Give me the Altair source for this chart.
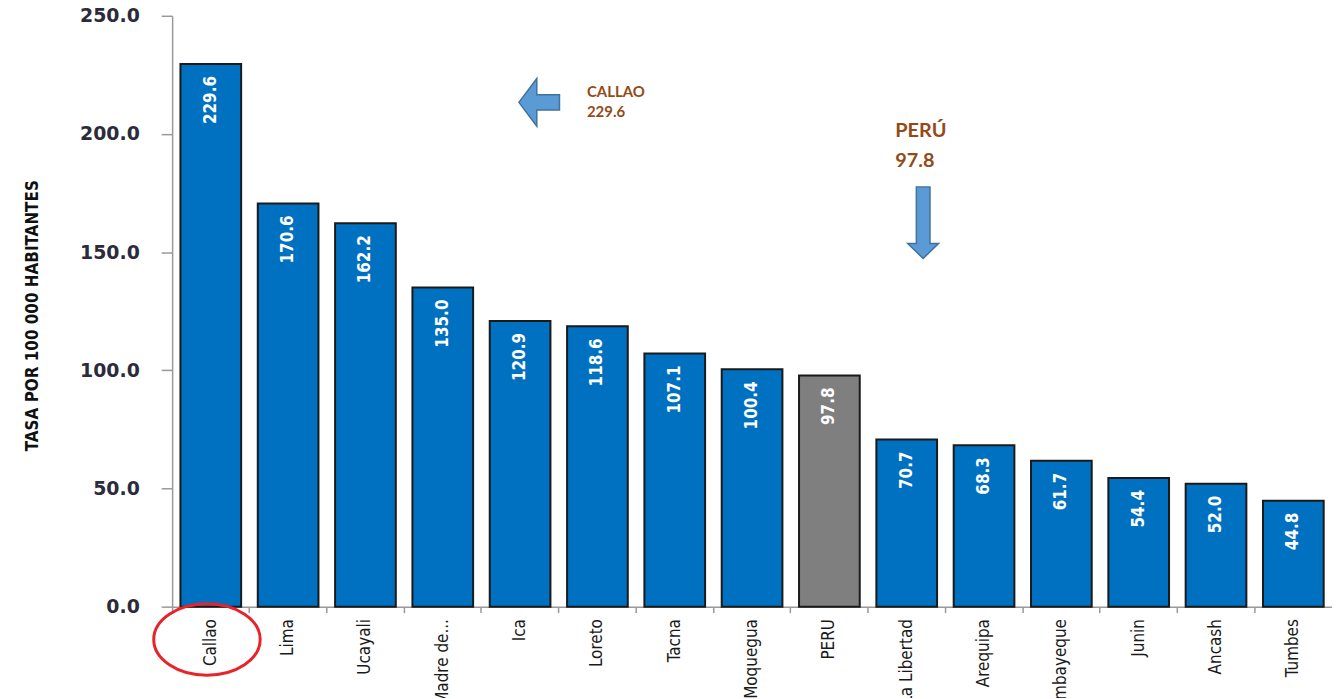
import altair as alt
import pandas as pd

regions = ["Callao", "Lima", "Ucayali", "Madre de...", "Ica", "Loreto", "Tacna",
           "Moquegua", "PERU", "La Libertad", "Arequipa", "Lambayeque", "Junin",
           "Ancash", "Tumbes"]
values = [229.6, 170.6, 162.2, 135.0, 120.9, 118.6, 107.1, 100.4, 97.8, 70.7,
          68.3, 61.7, 54.4, 52.0, 44.8]
y_ticks = [0, 50, 100, 150, 200, 250]

df = pd.DataFrame({"region": regions, "tasa": values})

NARROW = "'Liberation Sans Narrow', 'DejaVu Sans Condensed', 'Arial Narrow', sans-serif"
BLUE = "#0070C0"
GRAY = "#7F7F7F"
BROWN = "#944A17"

x_enc = alt.X("region:N", sort=None,
              scale=alt.Scale(paddingInner=0, paddingOuter=0),
              axis=alt.Axis(title=None, labelAngle=270, labelFont=NARROW,
                            labelFontSize=17, labelColor="#1a1a1a",
                            labelPadding=6, tickSize=6, bandPosition=0,
                            domainColor="#999999", domainWidth=1.5,
                            tickColor="#999999", tickWidth=1.5,
                            labelOverlap=False))
y_enc = alt.Y("tasa:Q",
              scale=alt.Scale(domain=[0, 250], nice=False),
              axis=alt.Axis(title="TASA POR 100 000 HABITANTES", values=y_ticks,
                            format=".1f", grid=False,
                            labelFont="DejaVu Sans", labelFontWeight="bold",
                            labelFontSize=19, labelColor="#2b2b3b",
                            labelPadding=22, tickSize=11,
                            tickColor="#999999", tickWidth=1.5,
                            domainColor="#999999", domainWidth=1.5,
                            titleFont=NARROW, titleFontWeight="bold",
                            titleFontSize=17, titleColor="#111111",
                            titleAngle=270, titleX=-140, titleY=301,
                            titleAlign="center", titleBaseline="middle"))

bars = alt.Chart(df).mark_bar(
    width=alt.RelativeBandSize(0.785), stroke="#1a1a1a", strokeWidth=2
).encode(
    x=x_enc, y=y_enc,
    color=alt.condition(alt.datum.region == "PERU", alt.value(GRAY), alt.value(BLUE)),
)

labels = alt.Chart(df).mark_text(
    angle=270, align="right", baseline="middle", dx=-12,
    font=NARROW, fontWeight="bold", fontSize=17, color="white"
).encode(
    x=alt.X("region:N", sort=None), y="tasa:Q",
    text=alt.Text("tasa:Q", format=".1f"),
)

one = pd.DataFrame({"a": [0]})

left_arrow = alt.Chart(one).mark_point(
    shape="M -0.85,0 L -0.1,-1 L -0.1,-0.32 L 0.85,-0.32 L 0.85,0.32 L -0.1,0.32 L -0.1,1 Z",
    size=2304, filled=True, fill="#5B9BD5", stroke="#41719C", strokeWidth=1.5, opacity=1
).encode(x=alt.value(369), y=alt.value(87))

down_arrow = alt.Chart(one).mark_point(
    shape="M -0.19,-1 L 0.19,-1 L 0.19,0.58 L 0.43,0.58 L 0,1 L -0.43,0.58 L -0.19,0.58 Z",
    size=5184, filled=True, fill="#5B9BD5", stroke="#41719C", strokeWidth=1.5, opacity=1
).encode(x=alt.value(755), y=alt.value(208))

ellipse = alt.Chart(one).mark_point(
    shape=("M -1,0 C -1,-0.37 -0.5523,-0.67 0,-0.67 C 0.5523,-0.67 1,-0.37 1,0 "
           "C 1,0.37 0.5523,0.67 0,0.67 C -0.5523,0.67 -1,0.37 -1,0 Z"),
    size=11449, filled=False, stroke="#E8242A", strokeWidth=3, opacity=1
).encode(x=alt.value(35), y=alt.value(627))

callao_txt = alt.Chart(one).mark_text(
    text=["CALLAO", "229.6"], align="left", baseline="top", lineHeight=20,
    font="Lato, 'Open Sans', sans-serif", fontWeight="bold", fontSize=15, color=BROWN
).encode(x=alt.value(417), y=alt.value(70))

peru_txt = alt.Chart(one).mark_text(
    text=["PERÚ", "97.8"], align="left", baseline="top", lineHeight=30,
    font="Lato, 'Open Sans', sans-serif", fontWeight="bold", fontSize=20, color=BROWN
).encode(x=alt.value(727), y=alt.value(106))

chart = alt.layer(
    bars, labels, left_arrow, down_arrow, ellipse, callao_txt, peru_txt
).properties(
    width=1166, height=594,
    autosize=alt.AutoSizeParams(type="none"),
    padding={"left": 165, "top": 6, "right": 0, "bottom": 90},
).configure_view(stroke=None)

chart.save("out.html", embed_options={"renderer": "svg", "actions": False})
